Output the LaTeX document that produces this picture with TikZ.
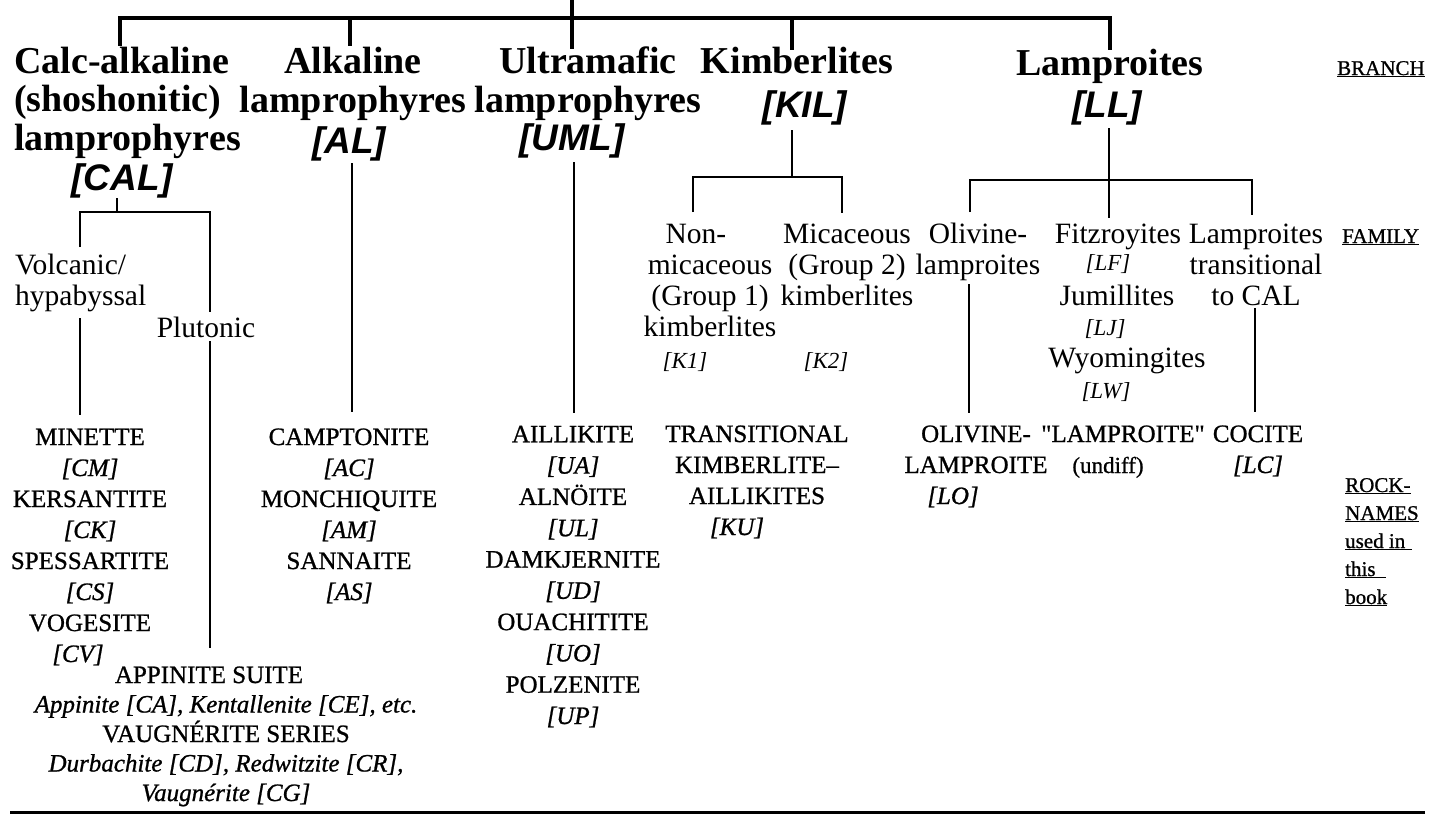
\documentclass[tikz,border=0pt]{standalone}
\usepackage{fontspec}
\setmainfont{Liberation Serif}
\newfontfamily\sansbi{Liberation Sans}
\newfontfamily\rockfont{Liberation Serif}[FakeBold=0.9]
\newfontfamily\qfont{Liberation Serif}[Ligatures=TeXOff,FakeBold=0.9]
\begin{document}
\begin{tikzpicture}[x=1pt,y=-1pt,
  topline/.style={line width=3.6pt, line join=miter, line cap=rect},
  tree/.style={line width=2.6pt, line join=miter},
  branch/.style={font=\fontsize{38}{38.5}\selectfont\bfseries, align=center, inner sep=0pt, anchor=base},
  code/.style={font=\fontsize{37}{37}\selectfont\sansbi\bfseries\itshape, inner sep=0pt, anchor=base},
  fam/.style={font=\fontsize{29.5}{31}\selectfont, align=center, inner sep=0pt, anchor=base},
  famcode/.style={font=\fontsize{23}{31}\selectfont\itshape, inner sep=0pt, anchor=base},
  rock/.style={font=\fontsize{25}{31}\selectfont\rockfont, align=center, inner sep=0pt, anchor=base},
  app/.style={font=\fontsize{25}{29.5}\selectfont\rockfont, align=center, inner sep=0pt, anchor=base},
  lab/.style={font=\fontsize{21}{28}\selectfont\rockfont, inner sep=0pt, anchor=base west}
]
\useasboundingbox (0,0) rectangle (1435,815);

% ---------- BRANCH level (multi-line nodes are placed at their last baseline) ----------
\node[branch, align=left, anchor=base west] (cal) at (14,150) {Calc-alkaline\\(shoshonitic)\\lamprophyres};
\node[code] (calc) at (122,190) {[CAL]};
\node[branch] (al) at (353,112) {Alkaline\\lamprophyres};
\node[code] (alc) at (349,153) {[AL]};
\node[branch] (uml) at (588,112) {Ultramafic\\lamprophyres};
\node[code] (umlc) at (572,150) {[UML]};
\node[branch] (kil) at (797,73) {Kimberlites};
\node[code] (kilc) at (805,117) {[KIL]};
\node[branch] (ll) at (1110,75) {Lamproites};
\node[code] (llc) at (1107,117) {[LL]};

% ---------- FAMILY level ----------
\node[fam, align=left, anchor=base west] (volc) at (15,305) {Volcanic/\\hypabyssal};
\node[fam] (plut) at (206,337) {Plutonic};
\node[fam] (k1f) at (710,336) {Non-\hspace*{28pt}\\micaceous\\(Group 1)\\kimberlites};
\node[famcode] (k1c) at (685,368) {[K1]};
\node[fam] (k2f) at (847,305) {Micaceous\\(Group 2)\\kimberlites};
\node[famcode] (k2c) at (826,368) {[K2]};
\node[fam] (olf) at (978,274) {Olivine-\\lamproites};
\node[fam] (fz) at (1118,243) {Fitzroyites};
\node[famcode] (lf) at (1108,270) {[LF]};
\node[fam] (ju) at (1117,305) {Jumillites};
\node[famcode] (lj) at (1105,335) {[LJ]};
\node[fam] (wy) at (1127,367) {Wyomingites};
\node[famcode] (lw) at (1106,398) {[LW]};
\node[fam] (ltc) at (1256,305) {Lamproites\\transitional\\to CAL};

% ---------- ROCK-NAME level ----------
\node[rock] (calr) at (90,662) {MINETTE\\\textit{[CM]}\hspace*{22pt}\\KERSANTITE\\\textit{[CK]}\hspace*{24pt}\\SPESSARTITE\\\textit{[CS]}\hspace*{24pt}\\VOGESITE\\\textit{[CV]}\hspace*{24pt}};
\node[app] (appr) at (226,801) {APPINITE SUITE\hspace*{34pt}\\\textit{Appinite [CA], Kentallenite [CE], etc.}\\VAUGNÉRITE SERIES\\\textit{Durbachite [CD], Redwitzite [CR],}\\\textit{Vaugnérite [CG]}};
\node[rock] (alr) at (349,600) {CAMPTONITE\\\textit{[AC]}\\MONCHIQUITE\\\textit{[AM]}\\SANNAITE\\\textit{[AS]}};
\node[rock, font=\fontsize{25}{31.3}\selectfont\rockfont] (umlr) at (573,724) {AILLIKITE\\\textit{[UA]}\\ALNÖITE\\\textit{[UL]}\\DAMKJERNITE\\\textit{[UD]}\\OUACHITITE\\\textit{[UO]}\\POLZENITE\\\textit{[UP]}};
\node[rock] (kur) at (757,535) {TRANSITIONAL\\KIMBERLITE–\\AILLIKITES\\\textit{[KU]}\hspace*{40pt}};
\node[rock] (lor) at (976,504) {OLIVINE-\\LAMPROITE\\\textit{[LO]}\hspace*{46pt}};
\node[rock] (lmp) at (1123,473) {{\qfont "LAMPROITE"}\\{\fontsize{23}{31}\selectfont(undiff)}\hspace*{30pt}};
\node[rock] (coc) at (1258,473) {COCITE\\\textit{[LC]}};

% ---------- side labels ----------
\node[lab] (brl) at (1337,75) {\underline{BRANCH}};
\node[lab] (fml) at (1342,243) {\underline{FAMILY}};
\node[lab, align=left] (rnl) at (1345,604) {\underline{ROCK-}\\\underline{NAMES}\\\underline{used in\hspace{0.3em}}\\\underline{this\hspace{0.5em}}\\\underline{book}};

% ---------- connector coordinates ----------
\coordinate (root) at (572,0);
\coordinate (rj) at (572,18);
\coordinate (calT) at (120,44);
\coordinate (calJ) at (120,18);
\coordinate (llJ) at (1110,18);
\coordinate (llT) at (1110,48);
\coordinate (alJ) at (350,18);
\coordinate (alT) at (350,44);
\coordinate (umlT) at (572,47);
\coordinate (kilJ) at (792,18);
\coordinate (kilT) at (792,48);

\coordinate (calS) at (117,198);
\coordinate (calH) at (117,212);
\coordinate (volJ) at (80,212);
\coordinate (volT) at (80,247);
\coordinate (pluJ) at (210,212);
\coordinate (pluT) at (210,312);
\coordinate (volB) at (80,318);
\coordinate (volE) at (80,415);
\coordinate (pluB) at (210,341);
\coordinate (pluE) at (210,648);

\coordinate (alS) at (352,163);
\coordinate (alE) at (352,412);
\coordinate (umlS) at (574,162);
\coordinate (umlE) at (574,413);

\coordinate (kilS) at (792,130);
\coordinate (kilH) at (792,177);
\coordinate (k1J) at (693,177);
\coordinate (k1T) at (693,212);
\coordinate (k2J) at (842,177);
\coordinate (k2T) at (842,213);

\coordinate (llS) at (1109,128);
\coordinate (llH) at (1109,180);
\coordinate (olJ) at (970,180);
\coordinate (olT) at (970,212);
\coordinate (fzT) at (1109,218);
\coordinate (ltJ) at (1252,180);
\coordinate (ltT) at (1252,215);
\coordinate (olB) at (969,284);
\coordinate (olE) at (969,413);
\coordinate (ltB) at (1255,308);
\coordinate (ltE) at (1255,412);

\coordinate (botL) at (10,812);
\coordinate (botR) at (1425,812);

% ---------- connectors ----------
\draw[topline] (root) -- (rj);
\draw[topline] (calT) -- (calJ) -- (llJ) -- (llT);
\draw[topline] (alJ) -- (alT);
\draw[topline] (rj) -- (umlT);
\draw[topline] (kilJ) -- (kilT);

\draw[tree] (calS) -- (calH);
\draw[tree] (volT) -- (volJ) -- (pluJ) -- (pluT);
\draw[tree] (volB) -- (volE);
\draw[tree] (pluB) -- (pluE);
\draw[tree] (alS) -- (alE);
\draw[tree] (umlS) -- (umlE);

\draw[tree] (kilS) -- (kilH);
\draw[tree] (k1T) -- (k1J) -- (k2J) -- (k2T);

\draw[tree] (llS) -- (llH);
\draw[tree] (olT) -- (olJ) -- (ltJ) -- (ltT);
\draw[tree] (llH) -- (fzT);
\draw[tree] (olB) -- (olE);
\draw[tree] (ltB) -- (ltE);

\draw[line width=3pt] (botL) -- (botR);
\end{tikzpicture}
\end{document}
